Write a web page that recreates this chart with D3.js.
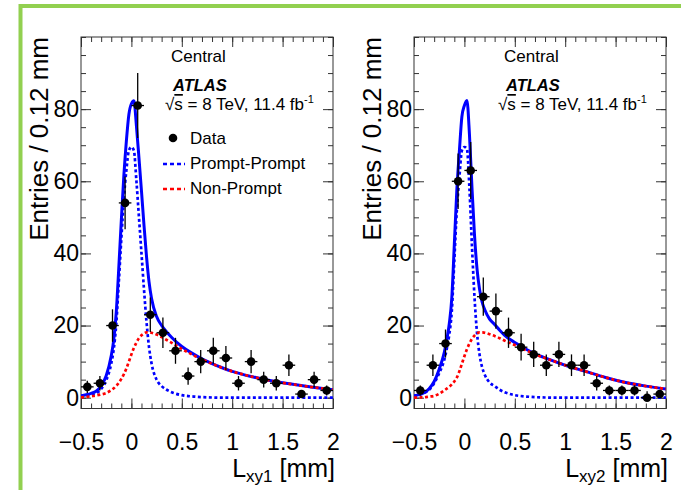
<!DOCTYPE html>
<html>
<head>
<meta charset="utf-8">
<script src="https://cdn.jsdelivr.net/npm/d3@7"></script>
<style>
  body { margin: 0; background: #fff; }
  svg { display: block; }
  text { font-family: "Liberation Sans", Arial, Helvetica, sans-serif; fill: #000; }
</style>
</head>
<body>
<div id="chart"></div>
<script>
// bin centres (20 bins of 0.125 mm from -0.5 to 2)
var binCenters = [-0.4375, -0.3125, -0.1875, -0.0625, 0.0625, 0.1875, 0.3125, 0.4375, 0.5625, 0.6875,
                  0.8125, 0.9375, 1.0625, 1.1875, 1.3125, 1.4375, 1.5625, 1.6875, 1.8125, 1.9375];
var binHalf = 0.0625;

// data, Lxy1
var data1 = [3, 4, 20, 54, 81, 23, 18, 13, 6, 10, 13, 11, 4, 10, 5, 4, 9, 1, 5, 2];
var err1Up = [1.7, 2, 4.5, 7.3, 9, 4.8, 4.2, 3.6, 2.4, 3.2, 3.6, 3.3, 2, 3.2, 2.2, 2, 3, 1, 2.2, 1.4];
var err1Dn = [1.7, 2, 4.5, 7.3, 9, 4.8, 4.2, 3.6, 2.4, 3.2, 3.6, 3.3, 2, 3.2, 2.2, 2, 3, 1, 2.2, 1.4];

// data, Lxy2
var data2 = [2, 9, 15, 60, 63, 28, 24, 18, 14, 12, 9, 12, 9, 9, 4, 2, 2, 2, 0, 1];
var err2Up = [1.4, 3, 3.9, 7.7, 7.9, 5.3, 4.9, 4.2, 3.7, 3.5, 3, 3.5, 3, 3, 2, 1.4, 1.4, 1.4, 1.8, 1];
var err2Dn = [1.4, 3, 3.9, 7.7, 7.9, 5.3, 4.9, 4.2, 3.7, 3.5, 3, 3.5, 3, 3, 2, 1.4, 1.4, 1.4, 0, 1];

// fit curves sampled at these x (mm)
var curveX = [-0.5, -0.45, -0.4, -0.35, -0.3, -0.25, -0.2, -0.175, -0.15, -0.125, -0.1, -0.075, -0.05, -0.025,
              0, 0.025, 0.05, 0.075, 0.1, 0.125, 0.15, 0.175, 0.2, 0.25, 0.3, 0.35, 0.4, 0.5, 0.6, 0.7,
              0.8, 0.9, 1.0, 1.2, 1.4, 1.6, 1.8, 2.0];

var total1 = [0.5, 0.8, 1.2, 1.8, 3.3, 6.1, 11.6, 16.1, 23.8, 36.1, 49.2, 61.5, 71.1, 78.5,
              81.5, 82.3, 75.3, 66.5, 57.3, 47.8, 39.1, 32.1, 27.5, 22.5, 20, 18.2, 16.7, 14.2, 12.35, 10.75,
              9.45, 8.3, 7.3, 5.8, 4.6, 3.7, 2.9, 2.2];
var prompt1 = [0.4, 0.6, 0.8, 1.2, 2.4, 4.8, 9.5, 13.5, 20.5, 32, 44, 55, 63, 68.5,
               69.5, 68.5, 60, 50, 40, 30, 21, 14, 9.5, 5, 3.2, 2.2, 1.5, 0.7, 0.35, 0.15,
               0.05, 0, 0, 0, 0, 0, 0, 0];
var nonprompt1 = [0.1, 0.2, 0.4, 0.6, 0.9, 1.3, 2.1, 2.6, 3.3, 4.1, 5.2, 6.5, 8.1, 10,
                  12, 13.8, 15.3, 16.5, 17.3, 17.8, 18.1, 18.1, 18, 17.5, 16.8, 16, 15.2, 13.5, 12, 10.6,
                  9.4, 8.3, 7.3, 5.8, 4.6, 3.7, 2.9, 2.2];

var total2 = [0.5, 0.85, 1.4, 2.5, 4.5, 7.9, 12.5, 16, 20.5, 27.7, 42.5, 57.6, 68.3, 77.9,
              81, 82.4, 73, 58.3, 45.2, 35.8, 30.1, 26.6, 24.5, 21.8, 20.3, 18.7, 17.3, 15.3, 13.65, 12.15,
              11.05, 10, 9, 7.3, 5.6, 4.2, 3.2, 2.4];
var prompt2 = [0.5, 0.8, 1.3, 2.2, 4, 6.8, 10.5, 13.5, 17.5, 24, 38, 52, 61, 68.5,
               69.5, 69, 58, 42, 28, 18, 12, 8.5, 6.5, 4.2, 3.2, 2.2, 1.5, 0.7, 0.35, 0.15,
               0.05, 0, 0, 0, 0, 0, 0, 0];
var nonprompt2 = [0, 0.05, 0.1, 0.3, 0.5, 1.1, 2, 2.5, 3, 3.7, 4.5, 5.6, 7.3, 9.4,
                  11.5, 13.4, 15, 16.3, 17.2, 17.8, 18.1, 18.1, 18, 17.6, 17.1, 16.5, 15.8, 14.6, 13.3, 12,
                  11, 10, 9, 7.3, 5.6, 4.2, 3.2, 2.4];

var xTicks = [-0.5, 0, 0.5, 1, 1.5, 2];
var yTicks = [0, 20, 40, 60, 80];

var W = 681, H = 490;
var svg = d3.select("#chart").append("svg")
    .attr("width", W)
    .attr("height", H);

// green slide border
svg.append("path")
    .attr("d", "M20.5,490 L20.5,6 L681,6")
    .attr("fill", "none")
    .attr("stroke", "#92d050")
    .attr("stroke-width", 4);

function panel(opts) {
  var top = 37, bottom = 408.5;
  var x = d3.scaleLinear().domain([-0.5, 2]).range([opts.left, opts.right]);
  var y = d3.scaleLinear().domain([-3, 100]).range([bottom, top]);

  var g = svg.append("g");

  // minor ticks
  var minorX = d3.range(-5, 21).map(function(i) { return i / 10; });
  var minorY = d3.range(0, 101, 5);

  g.append("g").attr("transform", "translate(0," + bottom + ")")
      .call(d3.axisBottom(x).tickValues(minorX).tickSize(-5).tickFormat(""));
  g.append("g").attr("transform", "translate(0," + top + ")")
      .call(d3.axisTop(x).tickValues(minorX).tickSize(-5).tickFormat(""));
  g.append("g").attr("transform", "translate(" + opts.left + ",0)")
      .call(d3.axisLeft(y).tickValues(minorY).tickSize(-5).tickFormat(""));
  g.append("g").attr("transform", "translate(" + opts.right + ",0)")
      .call(d3.axisRight(y).tickValues(minorY).tickSize(-5).tickFormat(""));

  // major ticks + labels
  g.append("g").attr("transform", "translate(0," + bottom + ")")
      .call(d3.axisBottom(x).tickValues(xTicks).tickSize(-10).tickPadding(25)
        .tickFormat(function(d) { return d < 0 ? "\u2212" + Math.abs(d) : d; }));
  g.append("g").attr("transform", "translate(0," + top + ")")
      .call(d3.axisTop(x).tickValues(xTicks).tickSize(-10).tickFormat(""));
  g.append("g").attr("transform", "translate(" + opts.left + ",0)")
      .call(d3.axisLeft(y).tickValues(yTicks).tickSize(-10).tickPadding(2));
  g.append("g").attr("transform", "translate(" + opts.right + ",0)")
      .call(d3.axisRight(y).tickValues(yTicks).tickSize(-10).tickFormat(""));

  g.selectAll(".domain").remove();
  g.selectAll(".tick line").attr("stroke", "#333").attr("stroke-width", 1);
  g.selectAll(".tick text")
      .style("font-family", '"Liberation Sans", Arial, sans-serif')
      .style("font-size", "23px")
      .attr("fill", "#000");

  // frame
  g.append("rect")
      .attr("x", opts.left).attr("y", top)
      .attr("width", opts.right - opts.left).attr("height", bottom - top)
      .attr("fill", "none").attr("stroke", "#333").attr("stroke-width", 1);

  // curves
  var clip = "clip" + opts.id;
  svg.append("clipPath").attr("id", clip).append("rect")
      .attr("x", opts.left).attr("y", top)
      .attr("width", opts.right - opts.left).attr("height", bottom - top);

  var line = d3.line()
      .x(function(d) { return x(d[0]); })
      .y(function(d) { return y(d[1]); })
      .curve(d3.curveMonotoneX);

  function pts(arr) { return curveX.map(function(v, i) { return [v, arr[i]]; }); }

  var cg = g.append("g").attr("clip-path", "url(#" + clip + ")");
  cg.append("path").attr("d", line(pts(opts.total)))
      .attr("fill", "none").attr("stroke", "#0000ff").attr("stroke-width", 3);
  cg.append("path").attr("d", line(pts(opts.prompt)))
      .attr("fill", "none").attr("stroke", "#0000ff").attr("stroke-width", 2.7)
      .attr("stroke-dasharray", "3,2.5");
  cg.append("path").attr("d", line(pts(opts.nonprompt)))
      .attr("fill", "none").attr("stroke", "#ff0000").attr("stroke-width", 2.7)
      .attr("stroke-dasharray", "3,2.5");

  // data points
  var pts2 = binCenters.map(function(c, i) {
    return { x: c, v: opts.data[i], up: opts.errUp[i], dn: opts.errDn[i] };
  });
  var dg = g.append("g");
  dg.selectAll("line.ey").data(pts2).enter().append("line")
      .attr("x1", function(d) { return x(d.x); })
      .attr("x2", function(d) { return x(d.x); })
      .attr("y1", function(d) { return y(Math.max(d.v - d.dn, -3)); })
      .attr("y2", function(d) { return y(d.v + d.up); })
      .attr("stroke", "#000").attr("stroke-width", 1.3);
  dg.selectAll("line.ex").data(pts2).enter().append("line")
      .attr("x1", function(d) { return x(d.x - binHalf); })
      .attr("x2", function(d) { return x(d.x + binHalf); })
      .attr("y1", function(d) { return y(d.v); })
      .attr("y2", function(d) { return y(d.v); })
      .attr("stroke", "#000").attr("stroke-width", 1.3);
  dg.selectAll("circle").data(pts2).enter().append("circle")
      .attr("cx", function(d) { return x(d.x); })
      .attr("cy", function(d) { return y(d.v); })
      .attr("r", 4.3)
      .attr("fill", "#000");

  // texts
  var L = opts.left;
  g.append("text").attr("x", L + 90).attr("y", 62)
      .style("font-size", "17px").text("Central");
  g.append("text").attr("x", L + 92).attr("y", 91)
      .style("font-size", "16.5px").style("font-weight", "bold").style("font-style", "italic")
      .text("ATLAS");
  var t = g.append("text").attr("x", L + 84).attr("y", 110).style("font-size", "17px");
  t.append("tspan").text("\u221A");
  t.append("tspan").attr("text-decoration", "overline").text("s");
  t.append("tspan").text(" = 8 TeV, 11.4 fb");
  t.append("tspan").attr("dy", -7).style("font-size", "11px").text("-1");

  // axis titles
  g.append("text")
      .attr("transform", "translate(" + (L - 33) + "," + top + ") rotate(-90)")
      .attr("text-anchor", "end")
      .style("font-size", "26px")
      .text("Entries / 0.12 mm");
  var xt = g.append("text").attr("x", opts.right + 2).attr("y", 477)
      .attr("text-anchor", "end").style("font-size", "25px");
  xt.append("tspan").text("L");
  xt.append("tspan").attr("dy", 5).style("font-size", "17px").text(opts.sub);
  xt.append("tspan").attr("dy", -5).text(" [mm]");

  return { x: x, y: y, g: g };
}

panel({ id: 1, left: 81, right: 333, data: data1, errUp: err1Up, errDn: err1Dn,
        total: total1, prompt: prompt1, nonprompt: nonprompt1, sub: "xy1" });
panel({ id: 2, left: 414, right: 666, data: data2, errUp: err2Up, errDn: err2Dn,
        total: total2, prompt: prompt2, nonprompt: nonprompt2, sub: "xy2" });

// legend (left panel only)
var lg = svg.append("g");
lg.append("circle").attr("cx", 173).attr("cy", 138).attr("r", 4.3).attr("fill", "#000");
lg.append("text").attr("x", 190).attr("y", 144).style("font-size", "17px").text("Data");
lg.append("line").attr("x1", 163).attr("x2", 185).attr("y1", 164).attr("y2", 164)
    .attr("stroke", "#0000ff").attr("stroke-width", 2.5).attr("stroke-dasharray", "4,3");
lg.append("text").attr("x", 190).attr("y", 169).style("font-size", "17px").text("Prompt-Prompt");
lg.append("line").attr("x1", 163).attr("x2", 185).attr("y1", 189).attr("y2", 189)
    .attr("stroke", "#ff0000").attr("stroke-width", 2.5).attr("stroke-dasharray", "4,3");
lg.append("text").attr("x", 190).attr("y", 194).style("font-size", "17px").text("Non-Prompt");
</script>
</body>
</html>
